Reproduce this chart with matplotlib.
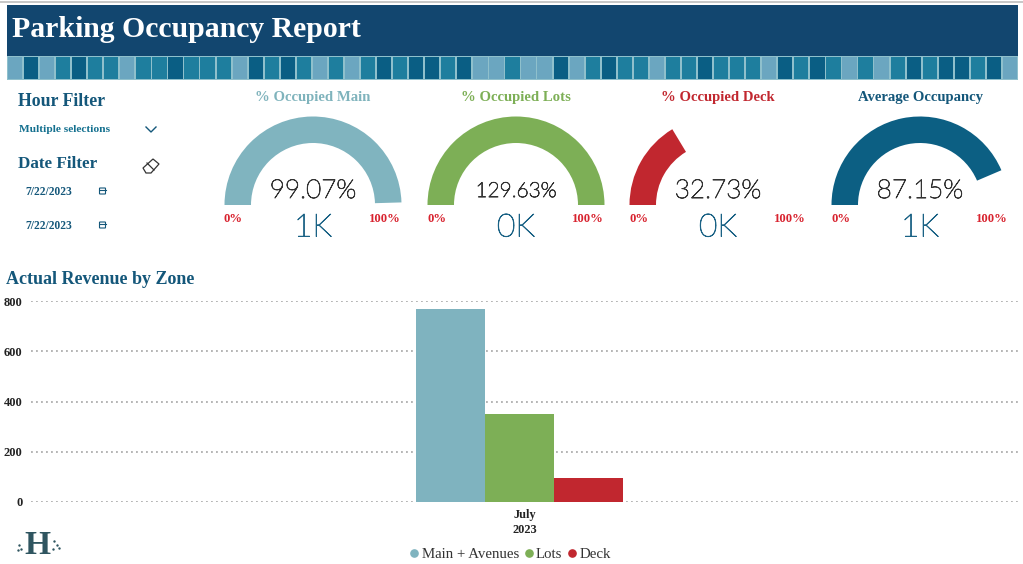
import matplotlib
matplotlib.use("Agg")
import matplotlib.pyplot as plt
import matplotlib.patheffects as pe
from matplotlib.patches import Wedge, Rectangle, Polygon, FancyBboxPatch
from matplotlib.lines import Line2D
from matplotlib.transforms import ScaledTranslation
import numpy as np

SERIF = ["Liberation Serif", "DejaVu Serif"]
SANS = ["Lato", "Roboto", "DejaVu Sans"]

# ---- data ----
title = "Parking Occupancy Report"
gauge_titles = ["% Occupied Main", "% Occupied Lots", "% Occupied Deck", "Average Occupancy"]
gauge_values = [99.07, 129.63, 32.73, 87.15]
gauge_labels = ["99.07%", "129.63%", "32.73%", "87.15%"]
gauge_label_sizes = [18.8, 15, 18.8, 18.8]
gauge_counts = ["1K", "0K", "0K", "1K"]
gauge_colors = ["#80B4BF", "#7DAF56", "#C1272F", "#0C5F83"]
title_colors = ["#7FB3BC", "#7DAF56", "#C1272F", "#14577A"]
zones = ["Main + Avenues", "Lots", "Deck"]
revenue = [768, 350, 96]
bar_colors = ["#7FB3BF", "#7DAF56", "#C1272F"]
y_ticks = [0, 200, 400, 600, 800]
month_label = "July\n2023"
date_values = ["7/22/2023", "7/22/2023"]
strip_levels = list("LDLMDMMLMMDMMMLDMDMLM" + "LMDMDDMDLLMLLDLMDMMLM" + "MDMMMLDMDMLMLMDMDDMDL")
strip_palette = {"L": "#6BA6C0", "M": "#1E7E9E", "D": "#0A5E84"}

W, H = 1023, 564
fig = plt.figure(figsize=(W / 100, H / 100), dpi=100, facecolor="white")

ov = fig.add_axes([0, 0, 1, 1], zorder=1)
ov.set_xlim(0, W)
ov.set_ylim(H, 0)
ov.axis("off")

# top edge + header
ov.add_patch(Rectangle((0, 1), W, 2, color="#C8C8C8", lw=0))
ov.add_patch(Rectangle((7, 5), 1011, 51, color="#12466F", lw=0))
ov.text(12, 29.5, title, family=SERIF, weight="bold", color="white",
        fontsize=21.4, va="center", ha="left")

# tile strip
ov.add_patch(Rectangle((7, 56), 1011, 24, color="#8FC0CC", lw=0))
n = len(strip_levels)
pitch = 1011 / n
for i, lv in enumerate(strip_levels):
    ov.add_patch(Rectangle((7 + i * pitch + 0.9, 57), pitch - 1.8, 22,
                           color=strip_palette[lv], lw=0))

# left filters
ov.text(18, 102, "Hour Filter", family=SERIF, weight="bold", color="#14577A", fontsize=12.8, va="center")
ov.text(19, 129.5, "Multiple selections", family=SERIF, weight="bold", color="#14708F", fontsize=8.2, va="center")
ov.plot([146, 151, 156], [127, 132, 127], color="#14577A", lw=1)
ov.text(18, 164, "Date Filter", family=SERIF, weight="bold", color="#14577A", fontsize=12.3, va="center")
for y, d in zip([192, 226], date_values):
    ov.text(25, y, d, family=SERIF, weight="bold", color="#14577A", fontsize=8.3, va="center")
    ov.add_patch(FancyBboxPatch((100, y - 3.5), 5, 5, boxstyle="round,pad=0.5",
                                fc="none", ec="#14577A", lw=0.8))
    ov.plot([99.5, 105.5], [y - 2, y - 2], color="#14577A", lw=0.8)
# eraser icon
ov.add_patch(Polygon([[143, 168], [153, 159], [159, 164], [151, 173], [146, 173]],
                     closed=True, fc="none", ec="#333333", lw=0.9))
ov.plot([147, 154], [163, 170], color="#333333", lw=0.9)

# gauges
centers = [313, 516, 718, 920]
BASE = 205
R, r = 88.5, 62
for cx, val, lab, sz, cnt, col, ttl, tcol in zip(centers, gauge_values, gauge_labels, gauge_label_sizes,
                                                 gauge_counts, gauge_colors, gauge_titles, title_colors):
    frac = min(val, 100) / 100
    ov.add_patch(Wedge((cx, BASE), R, 180, 180 + 180 * frac, width=R - r, fc=col, ec="none"))
    ov.text(cx, 97, ttl, family=SERIF, weight="bold", color=tcol, fontsize=10.6, ha="center", va="center")
    ov.text(cx, 191, lab, family=SANS, weight="light", color="#333333", fontsize=sz, ha="center", va="center",
            path_effects=[pe.withStroke(linewidth=0.6, foreground="#333333")])
    ov.text(cx, 228, cnt, family=SANS, weight="light", color="#1A6285", fontsize=23, ha="center", va="center",
            path_effects=[pe.withStroke(linewidth=0.6, foreground="#1A6285")])
    ov.text(cx - 89, 218.5, "0%", family=SERIF, weight="bold", color="#D8232F", fontsize=9.2, ha="left", va="center")
    ov.text(cx + 88, 219, "100%", family=SERIF, weight="bold", color="#D8232F", fontsize=9.2, ha="right", va="center")

# chart heading
ov.text(6, 280, "Actual Revenue by Zone", family=SERIF, weight="bold", color="#14577A", fontsize=13, va="center")

# logo
ov.text(37, 546, "H", family=SERIF, weight="bold", color="#2F5560", fontsize=24, ha="center", va="center")
logo_x = [19, 21, 18, 54, 57, 59, 53]
logo_y = [545, 549, 550, 541, 545, 548, 549]
ov.scatter(logo_x, logo_y, s=3, color="#2F5560", lw=0)

# bar chart
L, Rr, TOP, BOT = 31, 1018, 301, 502
ax = fig.add_axes([L / W, 1 - BOT / H, (Rr - L) / W, (BOT - TOP) / H], zorder=2)
ax.patch.set_alpha(0)
group_w = 207.0
cx0 = 519.5
ax.set_xlim((L - cx0) / group_w, (Rr - cx0) / group_w)
ax.set_ylim(0, 800)
xs = np.array([-1, 0, 1]) / 3
ax.bar(xs, revenue, width=1 / 3, color=bar_colors, zorder=3)
ax.set_yticks(y_ticks)
ax.set_yticklabels([str(v) for v in y_ticks], family=SERIF, weight="bold", fontsize=9, color="#222222")
ax.set_xticks([0])
ax.set_xticklabels([month_label], family=SERIF, weight="bold", fontsize=8.9, color="#222222", linespacing=1.35)
ax.tick_params(length=0)
ax.tick_params(axis="y", pad=6)
ax.tick_params(axis="x", pad=5)
ax.grid(axis="y", color="#A8A8A8", lw=1.2, linestyle=(0, (1.1, 1.9)), zorder=0)
for s in ax.spines.values():
    s.set_visible(False)
for t in ax.get_xticklabels():
    t.set_transform(t.get_transform() + ScaledTranslation(5 / 100, 0, fig.dpi_scale_trans))

handles = [Line2D([], [], marker="o", ls="", ms=5.2, color=c) for c in bar_colors]
fig.legend(handles, zones, loc="center", bbox_to_anchor=(510 / W, 1 - 554 / H), ncol=3, frameon=False,
           prop={"family": SERIF, "size": 10.7}, handlelength=0.7, handletextpad=0.15, columnspacing=0.3,
           labelcolor="#333333", borderpad=0)

fig.savefig("out.png", dpi=100)
